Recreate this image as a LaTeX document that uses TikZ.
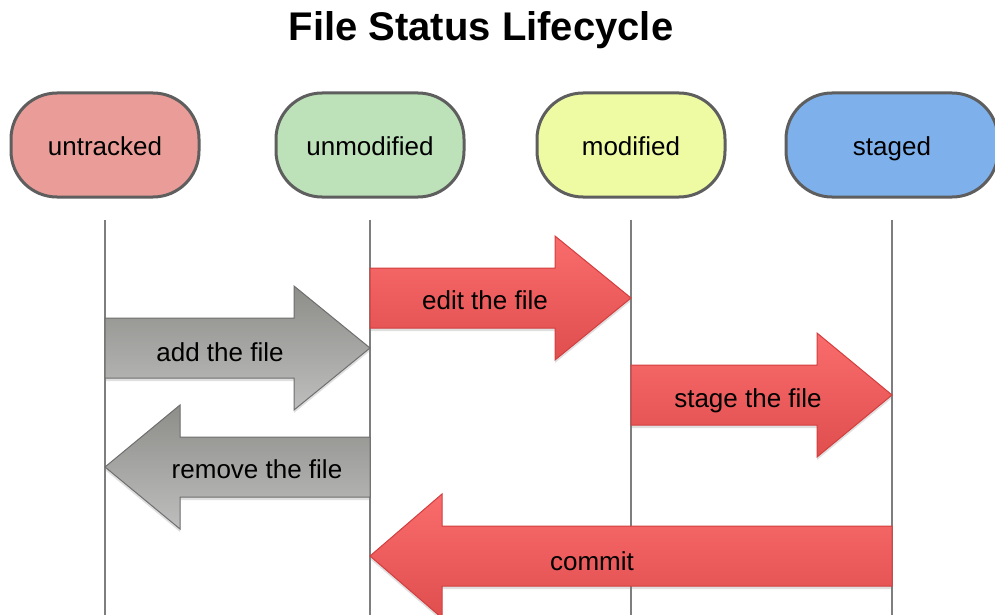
\documentclass[tikz,border=0pt]{standalone}
\usepackage{fontspec}
\setmainfont{Liberation Sans}
\usetikzlibrary{shadows}

\definecolor{untrackedfill}{HTML}{EA9C98}
\definecolor{unmodifiedfill}{HTML}{BDE2BA}
\definecolor{modifiedfill}{HTML}{EFFBA3}
\definecolor{stagedfill}{HTML}{7EB1EC}
\definecolor{stateborder}{HTML}{5E5E5E}
\definecolor{lifegray}{HTML}{7E7E7E}
\definecolor{redtop}{HTML}{FA6C6C}
\definecolor{redbottom}{HTML}{E04E4E}
\definecolor{redborder}{HTML}{D23E3E}
\definecolor{graytop}{HTML}{8D8D89}
\definecolor{graybottom}{HTML}{BEBEBE}
\definecolor{grayborder}{HTML}{6E6E6E}

\begin{document}
\begin{tikzpicture}[x=0.5pt, y=-0.5pt,
    state/.style={draw=stateborder, line width=1.5pt, rounded corners=23pt,
        minimum width=94pt, minimum height=52pt, text height=11pt, text depth=0.5pt,
        font=\fontsize{13}{15}\selectfont},
    lifeline/.style={draw=lifegray, line width=1.3pt},
    redarrow/.style={draw=redborder, line width=0.5pt, top color=redtop, bottom color=redbottom,
        drop shadow={shadow xshift=0pt, shadow yshift=-1.5pt, opacity=0.25}},
    grayarrow/.style={draw=grayborder, line width=0.5pt, top color=graytop, bottom color=graybottom,
        drop shadow={shadow xshift=0pt, shadow yshift=-1.5pt, opacity=0.25}},
    arrowtext/.style={text height=11pt, text depth=0.5pt, font=\fontsize{13}{15}\selectfont}]
    \useasboundingbox (0,0) rectangle (995,615);
    \coordinate (bottom) at (0,615);
    % Title
    \node[font=\bfseries\fontsize{20}{24}\selectfont] (title) at (481,30) {File Status Lifecycle};
    % States
    \node[state, fill=untrackedfill] (untracked) at (105,145) {untracked};
    \node[state, fill=unmodifiedfill] (unmodified) at (370,145) {unmodified};
    \node[state, fill=modifiedfill] (modified) at (631,145) {modified};
    \node[state, fill=stagedfill, minimum width=106pt] (staged) at (892,145) {staged};
    % Lifelines
    \draw[lifeline] (untracked.south) ++(0,21) -- (untracked |- bottom);
    \draw[lifeline] (unmodified.south) ++(0,21) -- (unmodified |- bottom);
    \draw[lifeline] (modified.south) ++(0,21) -- (modified |- bottom);
    \draw[lifeline] (staged.south) ++(0,21) -- (staged |- bottom);
    % edit the file
    \draw[redarrow] (370,268) -- (555,268) -- (555,236) -- (631,298) -- (555,360)
        -- (555,328) -- (370,328) -- cycle;
    \node[arrowtext] (edit) at (485,299) {edit the file};
    % add the file
    \draw[grayarrow] (105,318) -- (294,318) -- (294,286) -- (370,348) -- (294,410)
        -- (294,378) -- (105,378) -- cycle;
    \node[arrowtext] (add) at (220,351) {add the file};
    % stage the file
    \draw[redarrow] (631,365) -- (817,365) -- (817,333) -- (892,395) -- (817,457)
        -- (817,425) -- (631,425) -- cycle;
    \node[arrowtext] (stage) at (748,397) {stage the file};
    % remove the file
    \draw[grayarrow] (370,437) -- (180,437) -- (180,405) -- (105,467) -- (180,529)
        -- (180,497) -- (370,497) -- cycle;
    \node[arrowtext] (remove) at (257,468) {remove the file};
    % commit
    \draw[redarrow] (892,526) -- (442,526) -- (442,494) -- (370,556) -- (442,618)
        -- (442,586) -- (892,586) -- cycle;
    \node[arrowtext] (commit) at (592,560) {commit};
\end{tikzpicture}
\end{document}
